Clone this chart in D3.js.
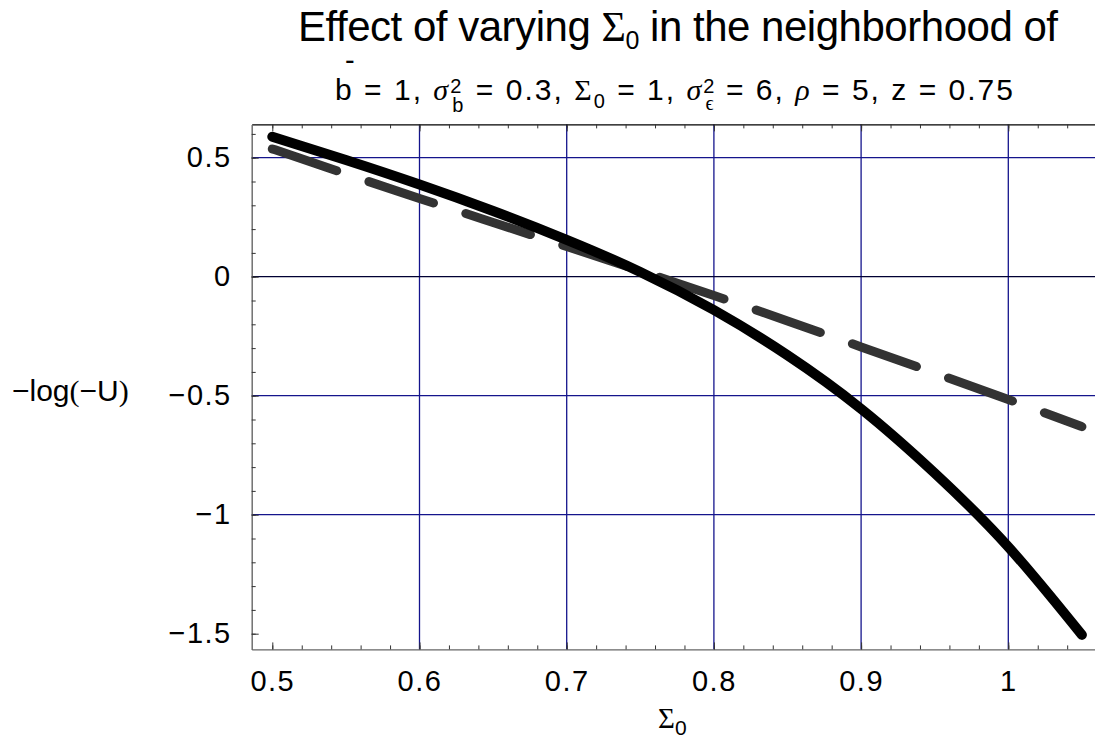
<!DOCTYPE html>
<html>
<head>
<meta charset="utf-8">
<script src="https://cdn.jsdelivr.net/npm/d3@7"></script>
<style>
  body { margin: 0; background: #fff; }
  svg { display: block; }
  text { font-family: "Liberation Sans", Arial, Helvetica, sans-serif; fill: #000; }
  .serif { font-family: "Liberation Serif", "Times New Roman", serif; }
</style>
</head>
<body>
<div id="chart"></div>
<script>
// values
var sigma0 = [0.5, 0.55, 0.6, 0.65, 0.7, 0.75, 0.8, 0.85, 0.9, 0.95, 1.0, 1.05];
var solidU = [0.588, 0.490, 0.387, 0.276, 0.155, 0.020, -0.140, -0.330, -0.555, -0.825, -1.135, -1.505];
var dashedU = [0.537, 0.432, 0.329, 0.228, 0.127, 0.025, -0.079, -0.186, -0.295, -0.405, -0.516, -0.630];

var xTicks = [0.5, 0.6, 0.7, 0.8, 0.9, 1.0];
var xTickLabels = ["0.5", "0.6", "0.7", "0.8", "0.9", "1"];
var xMinor = d3.range(0.5, 1.07, 0.02);
var yTicks = [0.5, 0, -0.5, -1, -1.5];
var yTickLabels = ["0.5", "0", "\u22120.5", "\u22121", "\u22121.5"];
var yMinor = d3.range(-1.5, 0.65, 0.1);
var xGrid = [0.6, 0.7, 0.8, 0.9, 1.0];
var yGrid = [0.5, -0.5, -1];

var W = 1095, H = 744;

var svg = d3.select('#chart').append('svg')
    .attr('width', W).attr('height', H);

var x = d3.scaleLinear().domain([0.5, 1.0]).range([272.3, 1008.3]);
var y = d3.scaleLinear().domain([0.5, 0]).range([157.7, 276.7]);

var frameL = x(0.486), frameR = x(1.07), frameT = y(0.64), frameB = y(-1.566);

// grid
var grid = svg.append('g');
grid.selectAll('line.gx').data(xGrid).enter().append('line')
    .attr('x1', function(d) { return x(d); }).attr('x2', function(d) { return x(d); })
    .attr('y1', frameT).attr('y2', frameB)
    .attr('stroke', '#14148c').attr('stroke-width', 1.3);
grid.selectAll('line.gy').data(yGrid).enter().append('line')
    .attr('x1', frameL).attr('x2', frameR)
    .attr('y1', function(d) { return y(d); }).attr('y2', function(d) { return y(d); })
    .attr('stroke', '#14148c').attr('stroke-width', 1.3);
grid.append('line')
    .attr('x1', frameL).attr('x2', frameR)
    .attr('y1', y(0)).attr('y2', y(0))
    .attr('stroke', '#000033').attr('stroke-width', 1.3);

// frame and ticks
function styleAxis(g) {
  g.select('.domain').attr('stroke', '#666').attr('stroke-width', 1.4);
  g.selectAll('.tick line').attr('stroke', '#333').attr('stroke-width', 1);
  g.selectAll('.tick text').style('font-size', '29px').style('letter-spacing', '1.5px')
      .attr('font-family', '"Liberation Sans", Arial, sans-serif');
}
function minorTicks(g) {
  g.select('.domain').remove();
  g.selectAll('.tick line').attr('stroke', '#333');
}

var xs = d3.scaleLinear().domain([0.486, 1.07]).range([frameL, frameR]);
var ys = d3.scaleLinear().domain([0.64, -1.566]).range([frameT, frameB]);

var bottomAxis = svg.append('g').attr('transform', 'translate(0,' + frameB + ')')
    .call(d3.axisBottom(xs).tickValues(xTicks).tickSize(-7).tickSizeOuter(0).tickPadding(21)
      .tickFormat(function(d, i) { return xTickLabels[i]; }));
styleAxis(bottomAxis);
svg.append('g').attr('transform', 'translate(0,' + frameB + ')')
    .call(d3.axisBottom(xs).tickValues(xMinor).tickSize(-4).tickSizeOuter(0).tickFormat(''))
    .call(minorTicks);

var topAxis = svg.append('g').attr('transform', 'translate(0,' + frameT + ')')
    .call(d3.axisTop(xs).tickValues(xTicks).tickSize(-7).tickSizeOuter(0).tickFormat(''));
styleAxis(topAxis);
topAxis.select('.domain').attr('stroke', '#000');
svg.append('g').attr('transform', 'translate(0,' + frameT + ')')
    .call(d3.axisTop(xs).tickValues(xMinor).tickSize(-4).tickSizeOuter(0).tickFormat(''))
    .call(minorTicks);

var leftAxis = svg.append('g').attr('transform', 'translate(' + frameL + ',0)')
    .call(d3.axisLeft(ys).tickValues(yTicks).tickSize(-7).tickSizeOuter(0).tickPadding(20)
      .tickFormat(function(d, i) { return yTickLabels[i]; }));
styleAxis(leftAxis);
svg.append('g').attr('transform', 'translate(' + frameL + ',0)')
    .call(d3.axisLeft(ys).tickValues(yMinor).tickSize(-4).tickSizeOuter(0).tickFormat(''))
    .call(minorTicks);

// curves
var line = d3.line()
    .x(function(d, i) { return x(sigma0[i]); })
    .y(function(d) { return y(d); })
    .curve(d3.curveNatural);

svg.append('path').datum(dashedU)
    .attr('d', line)
    .attr('fill', 'none').attr('stroke', '#333')
    .attr('stroke-width', 9).attr('stroke-linecap', 'round')
    .attr('stroke-dasharray', '68,34');

svg.append('path').datum(solidU)
    .attr('d', line)
    .attr('fill', 'none').attr('stroke', '#000')
    .attr('stroke-width', 10).attr('stroke-linecap', 'round');

// title
var t1 = svg.append('text').attr('x', 298).attr('y', 41).style('font-size', '42px')
    .attr('textLength', 760).attr('lengthAdjust', 'spacing');
t1.append('tspan').text('Effect of varying ');
t1.append('tspan').attr('class', 'serif').text('\u03a3');
t1.append('tspan').style('font-size', '25px').attr('dy', 8).text('0');
t1.append('tspan').attr('dy', -8).text('  in the neighborhood of');

// subtitle
svg.append('text').attr('x', 345).attr('y', 70).style('font-size', '29px').text('-');
var t2 = svg.append('text').attr('x', 335).attr('y', 100).style('font-size', '30px')
    .attr('textLength', 678).attr('lengthAdjust', 'spacing');
t2.append('tspan').text('b = 1, ');
t2.append('tspan').attr('class', 'serif').style('font-style', 'italic').text('\u03c3');
t2.append('tspan').style('font-size', '20px').attr('dy', -7).text('2');
t2.append('tspan').style('font-size', '20px').attr('dx', -11).attr('dy', 19).text('b');
t2.append('tspan').attr('dy', -12).text(' = 0.3, ');
t2.append('tspan').attr('class', 'serif').text('\u03a3');
t2.append('tspan').style('font-size', '20px').attr('dy', 8).text('0');
t2.append('tspan').attr('dy', -8).text(' = 1, ');
t2.append('tspan').attr('class', 'serif').style('font-style', 'italic').text('\u03c3');
t2.append('tspan').style('font-size', '20px').attr('dy', -7).text('2');
t2.append('tspan').attr('class', 'serif').style('font-size', '20px').attr('dx', -11).attr('dy', 17).text('\u03f5');
t2.append('tspan').attr('dy', -10).text(' = 6, ');
t2.append('tspan').attr('class', 'serif').style('font-style', 'italic').text('\u03c1');
t2.append('tspan').text(' = 5, z = 0.75');

// axis labels
var yl = svg.append('text').attr('x', 12).attr('y', 401).style('font-size', '30px');
yl.append('tspan').text('\u2212log');
yl.append('tspan').attr('class', 'serif').text('(');
yl.append('tspan').text('\u2212U');
yl.append('tspan').attr('class', 'serif').text(')');

var xl = svg.append('text').attr('x', 658).attr('y', 728).style('font-size', '29px');
xl.append('tspan').attr('class', 'serif').text('\u03a3');
xl.append('tspan').style('font-size', '21px').attr('dy', 7).text('0');
</script>
</body>
</html>
